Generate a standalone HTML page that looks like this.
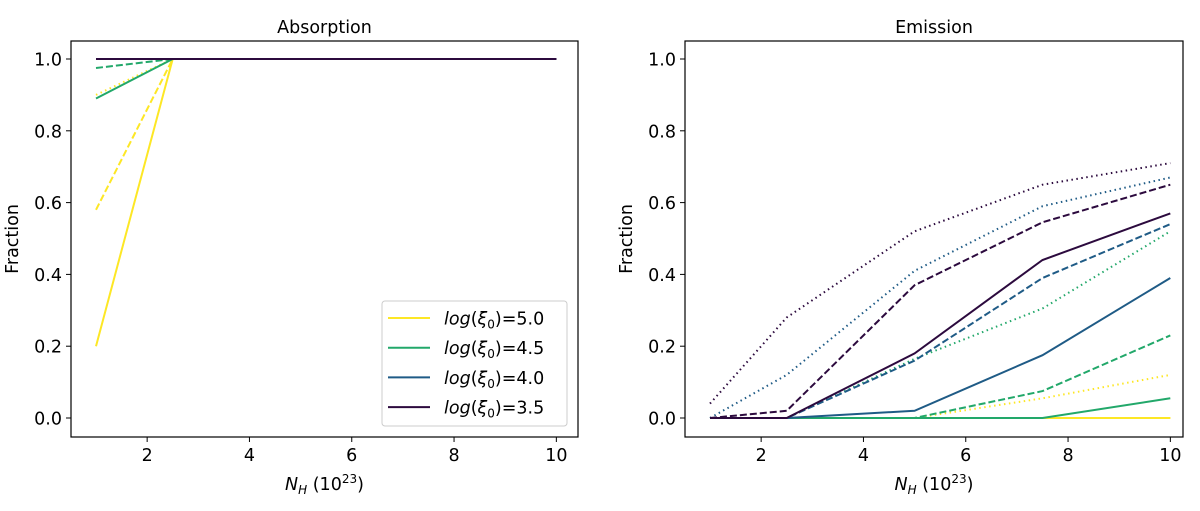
<!DOCTYPE html>
<html><head><meta charset="utf-8"><style>
body{margin:0;background:#fff;}
svg{display:block;font-family:"DejaVu Sans","Liberation Sans",sans-serif;}
</style></head><body>
<svg id="fig" width="1200" height="511" viewBox="0 0 1200 511" xmlns="http://www.w3.org/2000/svg"></svg>
<script>
const xVals=[1,2.5,5,7.5,10];
const xTicks=[2,4,6,8,10];
const yTicks=[0.0,0.2,0.4,0.6,0.8,1.0];
const logXi=["5.0","4.5","4.0","3.5"];
const colors=["#fde725","#22a86a","#1f5b86","#2c0a3e"];
// absorption values [solid, dashed, dotted] per logXi
const absSolid=[[0.2,1,1,1,1],[0.89,1,1,1,1],[1,1,1,1,1],[1,1,1,1,1]];
const absDashed=[[0.58,1,1,1,1],[0.975,1,1,1,1],[1,1,1,1,1],[1,1,1,1,1]];
const absDotted=[[0.9,1,1,1,1],[1,1,1,1,1],[1,1,1,1,1],[1,1,1,1,1]];
// emission values
const emiSolid=[[0,0,0,0,0],[0,0,0,0,0.055],[0,0,0.02,0.175,0.39],[0,0,0.18,0.44,0.57]];
const emiDashed=[[0,0,0,0,0],[0,0,0,0.075,0.23],[0,0,0.16,0.39,0.54],[0,0.02,0.37,0.545,0.65]];
const emiDotted=[[0,0,0,0.055,0.12],[0,0,0.165,0.305,0.52],[0,0.12,0.41,0.59,0.67],[0.04,0.28,0.52,0.65,0.71]];

const NS="http://www.w3.org/2000/svg";
const svg=document.getElementById('fig');
function mk(tag,attrs,parent){const e=document.createElementNS(NS,tag);for(const k in attrs)e.setAttribute(k,attrs[k]);(parent||svg).appendChild(e);return e;}

function panel(key,left,right,title,sets){
  const top=41,bottom=437;
  const sx=v=>left+25+(v-1)*51.15;
  const sy=v=>418-v*359;
  const g=mk('g',{});
  
  
  const styles=["none","7,3","1.5,3.5"];
  const names=["solid","dashed","dotted"];
  for(let c=0;c<logXi.length;c++){
    sets.forEach((set,si)=>{
      const pts=set[c].map((v,i)=>sx(xVals[i]).toFixed(1)+','+sy(v).toFixed(1)).join(' ');
      const p=mk('polyline',{points:pts,fill:'none',stroke:colors[c],'stroke-width':2,'stroke-dasharray':styles[si]},g);
      
      
    });
  }
  const fr=mk('rect',{x:left,y:top,width:right-left,height:bottom-top,fill:'none',stroke:'#000','stroke-width':1.2},g);
  
  
  xTicks.forEach(t=>{
    mk('line',{x1:sx(t),x2:sx(t),y1:bottom,y2:bottom+5,stroke:'#000'},g);
    const tx=mk('text',{x:sx(t),y:bottom+24,'text-anchor':'middle','font-size':17.5},g);
    tx.textContent=t;
    
    
  });
  yTicks.forEach(t=>{
    mk('line',{x1:left-5,x2:left,y1:sy(t),y2:sy(t),stroke:'#000'},g);
    const tx=mk('text',{x:left-9,y:sy(t)+6.5,'text-anchor':'end','font-size':17.5},g);
    tx.textContent=t.toFixed(1);
    
    
  });
  const tt=mk('text',{x:(left+right)/2,y:33,'text-anchor':'middle','font-size':17.5},g);
  tt.textContent=title;
  
  
  const xl=mk('text',{x:(left+right)/2,y:490,'text-anchor':'middle','font-size':17.5},g);
  xl.innerHTML='<tspan font-style="italic">N</tspan><tspan font-style="italic" font-size="12" dy="4">H</tspan><tspan dy="-4"> (10</tspan><tspan font-size="12" dy="-7">23</tspan><tspan dy="7">)</tspan>';
  
  
  const yl=mk('text',{x:0,y:0,'text-anchor':'middle','font-size':17.5,transform:`translate(${left-53},${(top+bottom)/2}) rotate(-90)`},g);
  yl.textContent='Fraction';
  
  
  return g;
}
panel('absorption',71,578,'Absorption',[absSolid,absDashed,absDotted]);
panel('emission',685,1183,'Emission',[emiSolid,emiDashed,emiDotted]);

const lg=mk('g',{});


mk('rect',{x:382,y:301,width:185,height:125,rx:3,fill:'#fff',stroke:'#ccc'},lg);
logXi.forEach((l,i)=>{
  const y=318+i*29.7;
  const e=mk('g',{},lg);
  
  
  mk('line',{x1:388,x2:430,y1:y,y2:y,stroke:colors[i],'stroke-width':2},e);
  const t=mk('text',{x:444,y:y+6.5,'font-size':17.5},e);
  t.innerHTML='<tspan font-style="italic">log</tspan>(<tspan font-style="italic">ξ</tspan><tspan font-size="12" dy="4">0</tspan><tspan dy="-4">)=</tspan>'+l;
});
</script>
</body></html>
